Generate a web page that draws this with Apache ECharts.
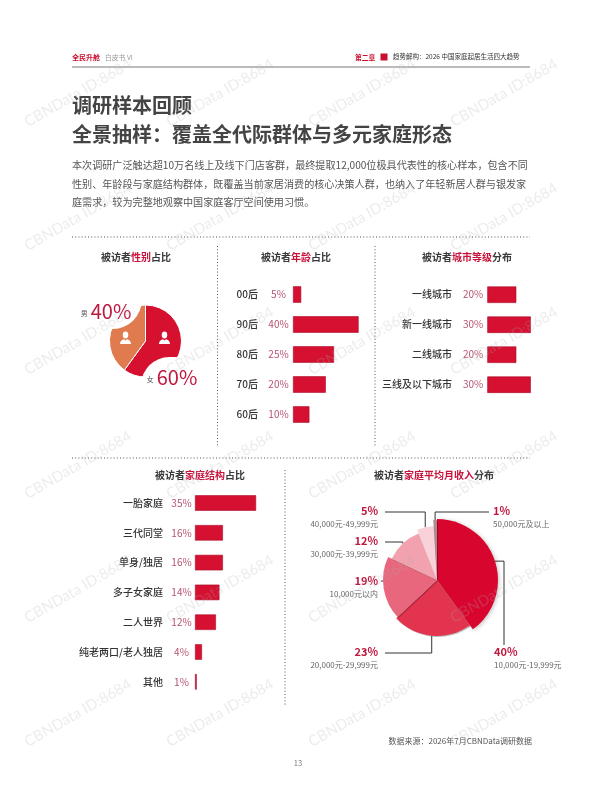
<!DOCTYPE html>
<html>
<head>
<meta charset="utf-8">
<title>调研样本回顾</title>
<script src="https://cdn.jsdelivr.net/npm/echarts@6.0.0/dist/echarts.min.js"></script>
<style>
    html, body {margin: 0; padding: 0; background: #fff;}
    #main {width: 596px; height: 808px;}
</style>
</head>
<body>
<div id="main"></div>
<script type="text/javascript">
    // 性别
    var genderNames = ['女', '男'];
    var genderValues = [60, 40];
    // 年龄
    var ageNames = ['00后', '90后', '80后', '70后', '60后'];
    var ageValues = [5, 40, 25, 20, 10];
    // 城市等级
    var cityNames = ['一线城市', '新一线城市', '二线城市', '三线及以下城市'];
    var cityValues = [20, 30, 20, 30];
    // 家庭结构
    var familyNames = ['一胎家庭', '三代同堂', '单身/独居', '多子女家庭', '二人世界', '纯老两口/老人独居', '其他'];
    var familyValues = [35, 16, 16, 14, 12, 4, 1];
    // 家庭平均月收入（从12点顺时针）
    var incomeNames = ['10,000元-19,999元', '20,000元-29,999元', '10,000元以内', '30,000元-39,999元', '40,000元-49,999元', '50,000元及以上'];
    var incomeValues = [40, 23, 19, 12, 5, 1];

    var FONT = '"Noto Sans CJK SC", "Noto Sans", sans-serif';
    var RED = '#c8102e';
    var BAR = '#d51030';
    var PCT = '#b8526f';

    var genderColors = ['#d6102f', '#e07a4f'];
    var incomeColors = ['#d8062f', '#e2334f', '#e9677c', '#f1a2ae', '#f8d2d8', '#b08891'];
    var incomeRadius = [61, 56, 54, 50, 54, 60];

    // 小人图标
    var iconUrl = 'data:image/svg+xml;charset=utf-8,' + encodeURIComponent(
        "<svg xmlns='http://www.w3.org/2000/svg' width='24' height='26' viewBox='0 0 24 26'>" +
        "<ellipse cx='12' cy='8' rx='5.5' ry='6.8' fill='#fff'/>" +
        "<path d='M1 26c0-6 4-9 8-9.6l3 2.6 3-2.6c4 .6 8 3.6 8 9.6z' fill='#fff'/></svg>");

    var graphics = [];
    function addText(x, y, text, opt) {
        opt = opt || {};
        graphics.push({
            type: 'text', x: x, y: y, z: opt.z || 10, silent: true, rotation: opt.rotation || 0,
            style: {
                text: text, fill: opt.color || '#444', fontSize: opt.size || 10,
                fontWeight: opt.weight || 'normal', fontFamily: FONT,
                align: opt.align || 'left', verticalAlign: 'middle', rich: opt.rich
            }
        });
    }
    function addDots(x1, y1, x2, y2) {
        graphics.push({
            type: 'line', silent: true, z: 5,
            shape: {x1: x1, y1: y1, x2: x2, y2: y2},
            style: {stroke: '#555', lineWidth: 1, lineDash: [1, 2.2]}
        });
    }
    function panelTitle(x, y, pre, key, post) {
        addText(x, y, '{a|' + pre + '}{b|' + key + '}{a|' + post + '}', {
            align: 'center',
            rich: {
                a: {fontSize: 10, fontWeight: 'bold', fill: '#3a3a3a', fontFamily: FONT},
                b: {fontSize: 10, fontWeight: 'bold', fill: '#c8143c', fontFamily: FONT}
            }
        });
    }

    // 页眉
    addText(72, 57, '全民升舱', {size: 7, weight: 'bold', color: RED});
    addText(105, 57, '白皮书 VI', {size: 6.8, color: '#999'});
    addText(355, 57, '第二章', {size: 6.8, weight: 'bold', color: RED});
    graphics.push({type: 'rect', silent: true, shape: {x: 380.5, y: 53.5, width: 7, height: 7}, style: {fill: RED}});
    addText(393, 57, '趋势解构：2026 中国家庭起居生活四大趋势', {size: 6.5, color: '#333'});
    graphics.push({type: 'line', silent: true, shape: {x1: 72, y1: 67, x2: 530, y2: 67}, style: {stroke: '#555', lineWidth: 0.8}});

    // 标题与正文
    addText(72, 105, '调研样本回顾', {size: 20, weight: 'bold', color: '#444'});
    addText(72, 134, '全景抽样：覆盖全代际群体与多元家庭形态', {size: 20, weight: 'bold', color: '#444'});
    addText(72, 165.5, '本次调研广泛触达超10万名线上及线下门店客群，最终提取12,000位极具代表性的核心样本，包含不同', {size: 10.1, color: '#555'});
    addText(72, 184, '性别、年龄段与家庭结构群体，既覆盖当前家居消费的核心决策人群，也纳入了年轻新居人群与银发家', {size: 10.1, color: '#555'});
    addText(72, 202, '庭需求，较为完整地观察中国家庭客厅空间使用习惯。', {size: 10.1, color: '#555'});

    // 虚线分隔
    addDots(72, 237, 530, 237);
    addDots(217.5, 246, 217.5, 447);
    addDots(375, 246, 375, 447);
    addDots(72, 458, 530, 458);
    addDots(285, 470, 285, 705);

    // 小标题
    panelTitle(136, 257, '被访者', '性别', '占比');
    panelTitle(296, 257, '被访者', '年龄', '占比');
    panelTitle(467, 257, '被访者', '城市等级', '分布');
    panelTitle(200, 475, '被访者', '家庭结构', '占比');
    panelTitle(434, 475, '被访者', '家庭平均月收入', '分布');

    // 页脚
    addText(532, 741, '数据来源：2026年7月CBNData调研数据', {size: 8, color: '#555', align: 'right'});
    addText(298, 763, '13', {size: 7.5, color: '#777', align: 'center'});

    // 水印
    var wmCols = [78, 220, 362, 504];
    var wmRows = [93, 217, 341, 465, 589, 713];
    wmRows.forEach(function (wy) {
        wmCols.forEach(function (wx) {
            graphics.push({
                type: 'text', x: wx, y: wy, z: 100, silent: true, rotation: 0.52,
                style: {
                    text: 'CBNData ID:8684', fill: 'rgba(175,175,175,0.24)', fontSize: 15,
                    fontFamily: 'Lato, "Open Sans", sans-serif', align: 'center', verticalAlign: 'middle'
                }
            });
        });
    });

    function catAxis(gi, names, vals, pctWidth, gap) {
        return {
            type: 'category', gridIndex: gi, data: names, inverse: true,
            axisLine: {show: false}, axisTick: {show: false}, splitLine: {show: false},
            axisLabel: {
                margin: 0, interval: 0,
                formatter: function (v, i) { return '{n|' + v + '}{p|' + vals[i] + '%}'; },
                rich: {
                    n: {fontSize: 10, fontWeight: 500, color: '#333', padding: [0, gap, 0, 0], fontFamily: FONT},
                    p: {fontSize: 10, color: PCT, width: pctWidth, align: 'left', fontFamily: FONT}
                }
            }
        };
    }
    function valAxis(gi) {
        return {type: 'value', gridIndex: gi, min: 0, max: 50, show: false};
    }
    function barSeries(gi, vals, w) {
        return {
            type: 'bar', xAxisIndex: gi, yAxisIndex: gi, data: vals, barWidth: w, silent: true,
            itemStyle: {color: BAR, borderColor: '#a90c2a', borderWidth: 0.6}
        };
    }

    var series = [
        barSeries(0, ageValues, 16.5),
        barSeries(1, cityValues, 16.5),
        barSeries(2, familyValues, 15.5)
    ];

    // 性别饼图
    var genderLabelAt = [[172, 385], [110, 300]];
    var genderPad = [[9, 5.5, 25, 5.5], [29, 10.5, 7, 2.5]];
    var genderRound = [28, 29];
    var iconOffset = [[-1, -10], [0, 3]];
    series.push({
        type: 'pie', center: [145.5, 341], radius: 36, startAngle: 90, silent: true, z: 2,
        avoidLabelOverlap: false,
        data: genderNames.map(function (n, i) {
            return {
                name: n, value: genderValues[i], itemStyle: {color: genderColors[i]},
                label: {padding: genderPad[i], borderRadius: genderRound[i]}
            };
        }),
        itemStyle: {borderColor: '#fff', borderWidth: 1},
        label: {
            show: true, position: 'outside', backgroundColor: '#fff',
            formatter: function (p) { return '{s|' + p.name + '}{v|' + p.value + '%}'; },
            rich: {
                s: {fontSize: 7, color: '#555', padding: [5, 3, 0, 0]},
                v: {fontSize: 20, color: '#c0173f', lineHeight: 22}
            }
        },
        labelLine: {show: false},
        labelLayout: function (p) {
            var at = genderLabelAt[p.dataIndex];
            return {x: at[0], y: at[1], align: 'center', verticalAlign: 'middle'};
        }
    });
    series.push({
        type: 'pie', center: [145.5, 341], radius: 36, startAngle: 90, silent: true, z: 3,
        data: genderNames.map(function (n, i) {
            return {name: n, value: genderValues[i], label: {offset: iconOffset[i]}};
        }),
        itemStyle: {color: 'rgba(0,0,0,0)', borderWidth: 0},
        label: {
            show: true, position: 'inside', formatter: '{icon|}',
            rich: {icon: {width: 12, height: 13, backgroundColor: {image: iconUrl}}}
        },
        labelLine: {show: false}
    });

    // 收入饼图：每块一层，半径不同
    var incomeLabelAt = [[494, 652, 'left'], [378, 652, 'right'], [378, 581, 'right'], [378, 541, 'right'], [378, 511, 'right'], [493, 511, 'left']];
    var incomeLineMode = ['hv', 'vh', 'h', 'vh', 'vh', 'vh'];
    function incomeLayout(k) {
        return function (p) {
            if (p.dataIndex !== k || !p.labelLinePoints) return {};
            var at = incomeLabelAt[k], p0 = [p.labelLinePoints[0][0], p.labelLinePoints[0][1]];
            var lx = at[0], ly = at[1], pts;
            var ex = at[2] === 'right' ? lx + 7 : lx - 4;
            if (incomeLineMode[k] === 'hv') {
                pts = [p0, [lx + 10, p0[1]], [lx + 10, ly - 7]];
            } else if (incomeLineMode[k] === 'h') {
                pts = [[p0[0] + 1.5, ly], [p0[0] + 1.5, ly], [lx + 3, ly]];
            } else {
                pts = [p0, [p0[0], ly + 1], [ex, ly + 1]];
            }
            return {x: lx, y: ly - 6.5, align: at[2], verticalAlign: 'top', labelLinePoints: pts};
        };
    }
    incomeValues.forEach(function (v, k) {
        series.push({
            type: 'pie', center: [437, 580], radius: incomeRadius[k], startAngle: 90, silent: true, z: 2,
            avoidLabelOverlap: false,
            data: incomeValues.map(function (val, i) {
                var on = i === k;
                return {
                    name: incomeNames[i], value: val,
                    itemStyle: on ? {
                        color: incomeColors[i],
                        shadowBlur: i === 0 ? 4 : 0, shadowColor: 'rgba(0,0,0,0.25)',
                        shadowOffsetX: 1, shadowOffsetY: 1
                    } : {color: 'rgba(0,0,0,0)', borderWidth: 0},
                    label: {show: on},
                    labelLine: {show: on}
                };
            }),
            label: {
                show: true, position: 'outside',
                formatter: function (p) { return '{p|' + p.value + '%}\n{n|' + p.name + '}'; },
                rich: {
                    p: {fontSize: 11, fontWeight: 'bold', color: '#c0173f', lineHeight: 13},
                    n: {fontSize: 8, color: '#666', lineHeight: 13}
                }
            },
            labelLine: {show: true, lineStyle: {color: '#333', width: 1}},
            labelLayout: incomeLayout(k)
        });
    });

    var myChart = echarts.init(document.getElementById('main'));
    var option = {
        animation: false,
        textStyle: {fontFamily: FONT},
        grid: [
            {left: 293, top: 279.5, width: 82, height: 150, outerBoundsMode: 'none'},
            {left: 487.3, top: 279.7, width: 72.5, height: 120, outerBoundsMode: 'none'},
            {left: 195, top: 488.1, width: 87.25, height: 208.6, outerBoundsMode: 'none'}
        ],
        xAxis: [valAxis(0), valAxis(1), valAxis(2)],
        yAxis: [
            catAxis(0, ageNames, ageValues, 29, 6),
            catAxis(1, cityNames, cityValues, 28.3, 7),
            catAxis(2, familyNames, familyValues, 27, 5)
        ],
        series: series,
        graphic: graphics
    };
    myChart.setOption(option);
</script>
</body>
</html>
